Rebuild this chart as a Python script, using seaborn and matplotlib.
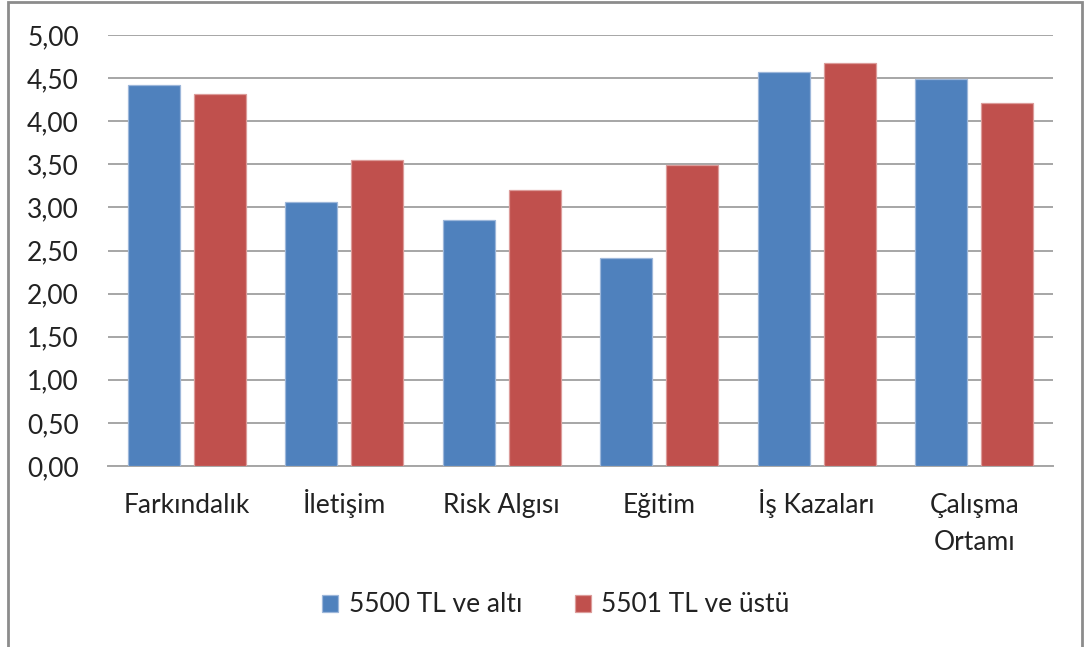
import matplotlib
matplotlib.use("Agg")
import matplotlib.pyplot as plt
from matplotlib.patches import Rectangle, Patch
from matplotlib.ticker import FuncFormatter, MultipleLocator
from matplotlib import transforms
import seaborn as sns
import pandas as pd

categories = ["Farkındalık", "İletişim", "Risk Algısı", "Eğitim", "İş Kazaları", "Çalışma\nOrtamı"]
series_names = ["5500 TL ve altı", "5501 TL ve üstü"]
low_income = [4.42, 3.06, 2.855, 2.41, 4.57, 4.49]
high_income = [4.31, 3.55, 3.20, 3.49, 4.67, 4.21]
colors = ["#4F81BD", "#C0504D"]
edge_colors = ["#9DB7DA", "#DC9C9A"]

df = pd.DataFrame({
    "kategori": categories * 2,
    "grup": [series_names[0]] * len(categories) + [series_names[1]] * len(categories),
    "puan": low_income + high_income,
})

sns.set_theme(style="white")
plt.rcParams["font.family"] = ["Lato", "DejaVu Sans"]

W, H = 1085, 647
fig = plt.figure(figsize=(W / 100, H / 100), dpi=100)
ax = fig.add_axes([108 / W, 1 - 466 / H, (1053 - 108) / W, (466 - 35) / H])

sns.barplot(
    data=df, x="kategori", y="puan", hue="grup", order=categories,
    hue_order=series_names, palette=colors, saturation=1, width=0.84, gap=0.21,
    errorbar=None, legend=False, ax=ax, zorder=3,
)
for i, container in enumerate(ax.containers):
    for bar in container:
        bar.set_edgecolor(edge_colors[i])
        bar.set_linewidth(0.9)

ax.set_ylim(0, 5)
ax.set_xlim(-0.5, len(categories) - 0.5)
ax.yaxis.set_major_locator(MultipleLocator(0.5))
ax.yaxis.set_major_formatter(FuncFormatter(lambda v, _: f"{v:.2f}".replace(".", ",")))
ax.grid(axis="y", color="#A6A6A6", linewidth=1.4, zorder=0)
ax.set_axisbelow(True)
for s in ["left", "right", "top"]:
    ax.spines[s].set_visible(False)
ax.spines["bottom"].set_color("#A6A6A6")
ax.spines["bottom"].set_linewidth(1.4)
ax.set_xlabel("")
ax.set_ylabel("")
ax.tick_params(axis="y", length=0, pad=21, labelsize=19, labelcolor="#222222")
ax.tick_params(axis="x", length=0)

# category labels: each line placed on its own baseline below the axis
ax.set_xticklabels([])
first_baseline, line_gap = 47, 37
for x, name in enumerate(categories):
    for j, line in enumerate(name.split("\n")):
        tr = transforms.offset_copy(ax.get_xaxis_transform(), fig=fig,
                                    y=-(first_baseline + j * line_gap), units="dots")
        ax.text(x, 0, line, transform=tr, ha="center", va="baseline",
                fontsize=19, color="#222222", clip_on=False)

handles = [Patch(facecolor=c, edgecolor=e, linewidth=0.9) for c, e in zip(colors, edge_colors)]
fig.legend(
    handles, series_names, loc="center", bbox_to_anchor=(556 / W, 1 - 605 / H),
    ncol=2, frameon=False, fontsize=19, handlelength=0.6, handleheight=0.6,
    handletextpad=0.4, columnspacing=2.0, labelcolor="#222222",
)

# outer chart frame
fig.patches.append(Rectangle((8 / W, -0.05), (1082 - 8) / W, 1.05 - 2 / H,
                             transform=fig.transFigure, fill=False,
                             edgecolor="#8C8C8C", linewidth=2))

fig.savefig("out.png", dpi=100)
